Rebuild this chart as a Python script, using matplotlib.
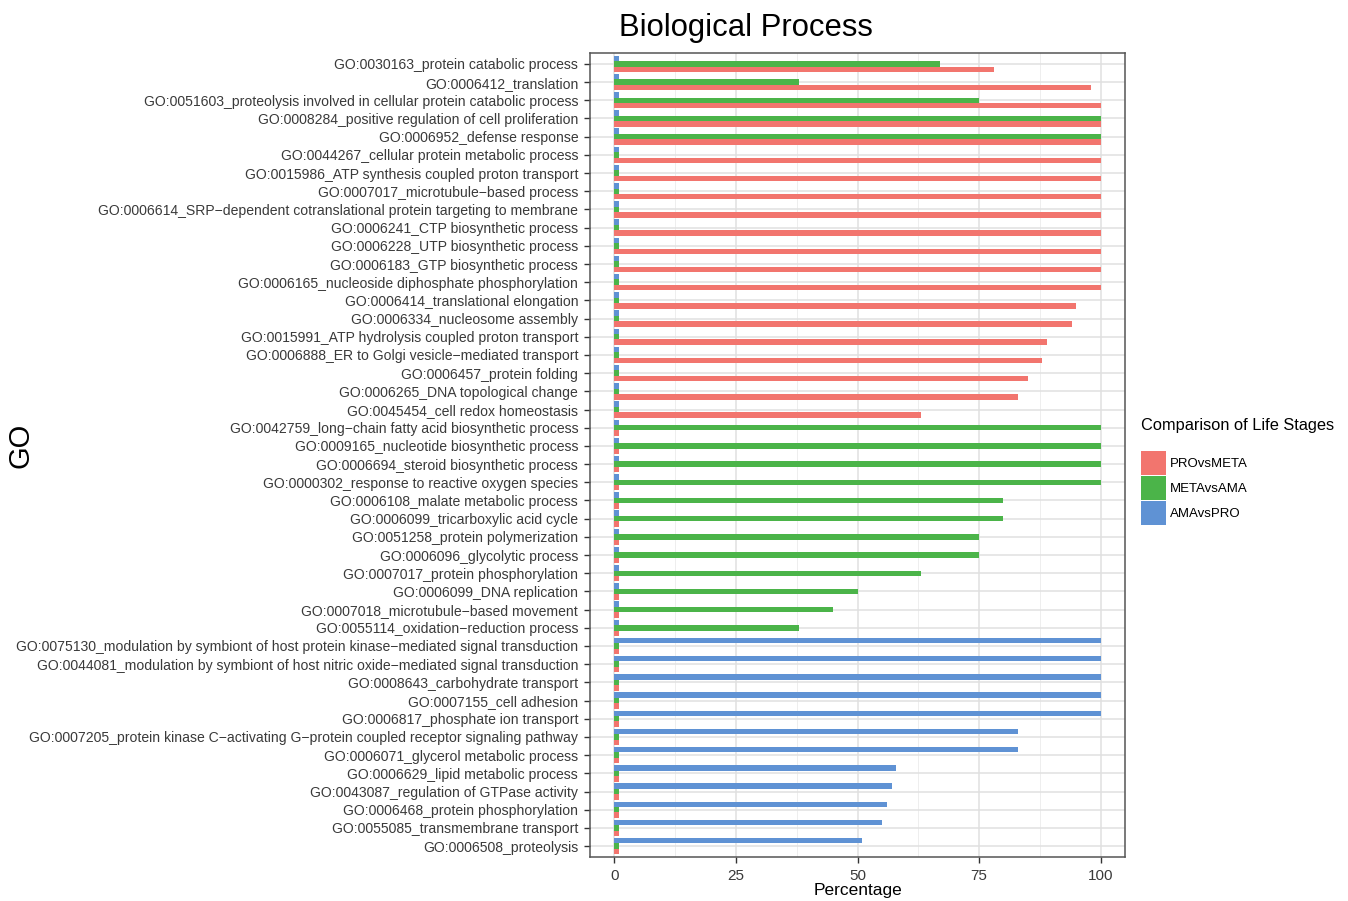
import numpy as np
import matplotlib.pyplot as plt
from matplotlib.ticker import MultipleLocator

plt.rcParams['font.family'] = ['Liberation Sans', 'DejaVu Sans']

# GO terms, listed top to bottom
go_terms = [
    "GO:0030163_protein catabolic process",
    "GO:0006412_translation",
    "GO:0051603_proteolysis involved in cellular protein catabolic process",
    "GO:0008284_positive regulation of cell proliferation",
    "GO:0006952_defense response",
    "GO:0044267_cellular protein metabolic process",
    "GO:0015986_ATP synthesis coupled proton transport",
    "GO:0007017_microtubule\u2212based process",
    "GO:0006614_SRP\u2212dependent cotranslational protein targeting to membrane",
    "GO:0006241_CTP biosynthetic process",
    "GO:0006228_UTP biosynthetic process",
    "GO:0006183_GTP biosynthetic process",
    "GO:0006165_nucleoside diphosphate phosphorylation",
    "GO:0006414_translational elongation",
    "GO:0006334_nucleosome assembly",
    "GO:0015991_ATP hydrolysis coupled proton transport",
    "GO:0006888_ER to Golgi vesicle\u2212mediated transport",
    "GO:0006457_protein folding",
    "GO:0006265_DNA topological change",
    "GO:0045454_cell redox homeostasis",
    "GO:0042759_long\u2212chain fatty acid biosynthetic process",
    "GO:0009165_nucleotide biosynthetic process",
    "GO:0006694_steroid biosynthetic process",
    "GO:0000302_response to reactive oxygen species",
    "GO:0006108_malate metabolic process",
    "GO:0006099_tricarboxylic acid cycle",
    "GO:0051258_protein polymerization",
    "GO:0006096_glycolytic process",
    "GO:0007017_protein phosphorylation",
    "GO:0006099_DNA replication",
    "GO:0007018_microtubule\u2212based movement",
    "GO:0055114_oxidation\u2212reduction process",
    "GO:0075130_modulation by symbiont of host protein kinase\u2212mediated signal transduction",
    "GO:0044081_modulation by symbiont of host nitric oxide\u2212mediated signal transduction",
    "GO:0008643_carbohydrate transport",
    "GO:0007155_cell adhesion",
    "GO:0006817_phosphate ion transport",
    "GO:0007205_protein kinase C\u2212activating G\u2212protein coupled receptor signaling pathway",
    "GO:0006071_glycerol metabolic process",
    "GO:0006629_lipid metabolic process",
    "GO:0043087_regulation of GTPase activity",
    "GO:0006468_protein phosphorylation",
    "GO:0055085_transmembrane transport",
    "GO:0006508_proteolysis",
]

pro_vs_meta = [78, 98, 100, 100, 100, 100, 100, 100, 100, 100, 100, 100, 100,
               95, 94, 89, 88, 85, 83, 63,
               1, 1, 1, 1, 1, 1, 1, 1, 1, 1, 1, 1,
               1, 1, 1, 1, 1, 1, 1, 1, 1, 1, 1, 1]
meta_vs_ama = [67, 38, 75, 100, 100, 1, 1, 1, 1, 1, 1, 1, 1,
               1, 1, 1, 1, 1, 1, 1,
               100, 100, 100, 100, 80, 80, 75, 75, 63, 50, 45, 38,
               1, 1, 1, 1, 1, 1, 1, 1, 1, 1, 1, 1]
ama_vs_pro = [1, 1, 1, 1, 1, 1, 1, 1, 1, 1, 1, 1, 1,
              1, 1, 1, 1, 1, 1, 1,
              1, 1, 1, 1, 1, 1, 1, 1, 1, 1, 1, 1,
              100, 100, 100, 100, 100, 83, 83, 58, 57, 56, 55, 51]

series = [("PROvsMETA", pro_vs_meta, "#F2756E"),
          ("METAvsAMA", meta_vs_ama, "#4BB449"),
          ("AMAvsPRO", ama_vs_pro, "#5F92D4")]

fig = plt.figure(figsize=(13.48, 9.01), dpi=100)
ax = fig.add_axes([590 / 1348, 1 - 857 / 901, 535 / 1348, 804 / 901])

n = len(go_terms)
ypos = np.arange(n)[::-1]
bar_h = 0.3
handles = []
for k, (name, vals, col) in enumerate(series):
    # dodge: first series lowest, last on top
    b = ax.barh(ypos + (k - 1) * bar_h, vals, height=bar_h, color=col,
                label=name, zorder=3)
    handles.append(b)

ax.set_xlim(-5, 105)
ax.set_ylim(-0.6, n - 0.4)
ax.set_yticks(ypos)
ax.set_yticklabels(go_terms)
ax.xaxis.set_major_locator(MultipleLocator(25))
ax.xaxis.set_minor_locator(MultipleLocator(12.5))

ax.grid(True, which='major', color='#E0E0E0', linewidth=1.1, zorder=0)
ax.grid(True, which='minor', axis='x', color='#EBEBEB', linewidth=0.6, zorder=0)
ax.set_axisbelow(True)
ax.tick_params(axis='both', which='major', length=4.5, width=1, color='#333333',
               labelsize=10.05, labelcolor='#3A3A3A', pad=4)
ax.tick_params(axis='x', labelsize=11)
ax.tick_params(which='minor', length=0)
for sp in ax.spines.values():
    sp.set_color('#555555')
    sp.set_linewidth(1.1)

fig.text(746 / 1348, 1 - 28 / 901, "Biological Process", fontsize=22.3,
         ha='center', va='center')
fig.text(858 / 1348, 1 - 891 / 901, "Percentage", fontsize=12.5,
         ha='center', va='center')
fig.text(20 / 1348, 1 - 445 / 901, "GO", fontsize=21, rotation=90,
         ha='center', va='center')

leg = fig.legend(handles=handles, title="Comparison of Life Stages",
                 loc='upper left', bbox_to_anchor=(1132 / 1348, 1 - 409 / 901),
                 frameon=False, fontsize=9.5, title_fontsize=11.8,
                 handlelength=1.85, handleheight=2.42, handletextpad=0.3,
                 labelspacing=0.05, borderpad=0.2, alignment='left')
leg._legend_box.sep = 13

fig.savefig("out.png", dpi=100)
